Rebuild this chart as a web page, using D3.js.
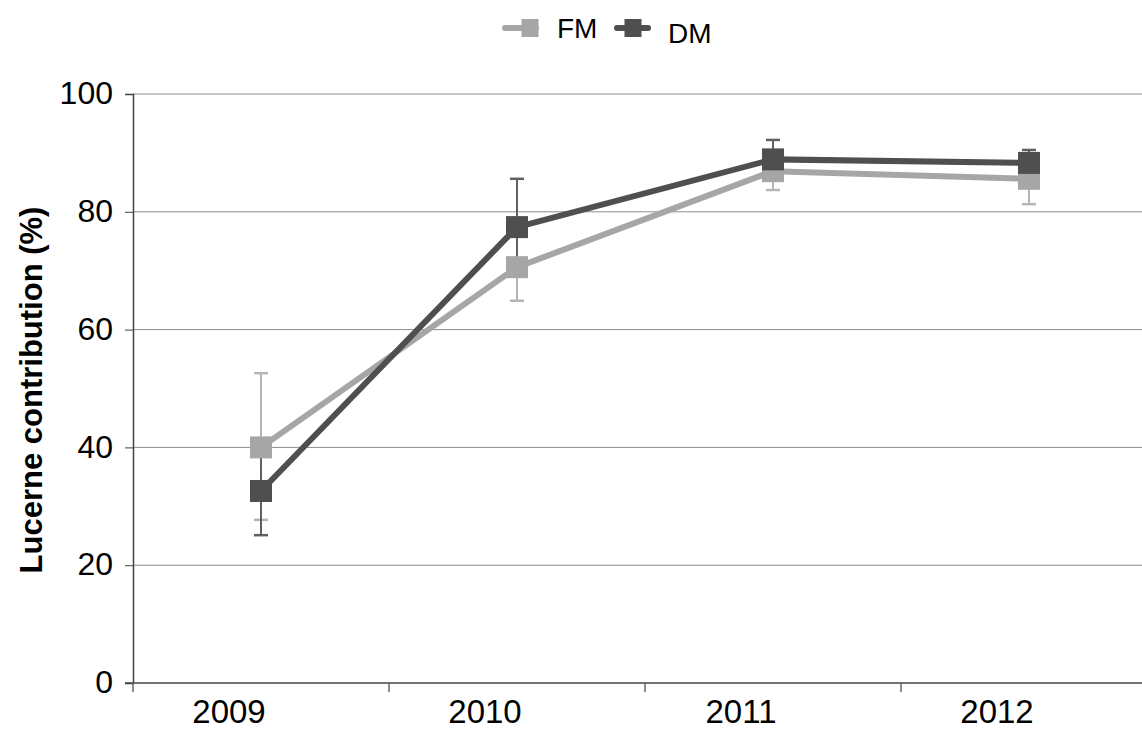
<!DOCTYPE html>
<html><head><meta charset="utf-8">
<script src="https://cdn.jsdelivr.net/npm/d3@7"></script>
<style>body{margin:0;background:#fff}svg{display:block}text{font-family:"Liberation Sans",Arial,sans-serif}</style>
</head><body><svg id="c" width="1142" height="729"></svg>
<script>
const years = ["2009","2010","2011","2012"];
const fmValues = [40.0, 70.6, 86.9, 85.6];
const fmErrLow = [27.7, 64.9, 83.7, 81.3];
const fmErrHigh = [52.6, 76.3, 90.1, 89.9];
const dmValues = [32.6, 77.4, 88.9, 88.3];
const dmErrLow = [25.1, 69.2, 85.6, 86.1];
const dmErrHigh = [40.1, 85.6, 92.2, 90.5];
const yTicks = [0,20,40,60,80,100];

(function(){
const svg = d3.select("#c");
const mLeft = 133, mTop = 94, mBottom = 683;
const x = d3.scaleBand().domain(years).range([mLeft, mLeft + 4*256]);
const y = d3.scaleLinear().domain([0,100]).range([mBottom, mTop]);

// gridlines
svg.append("g").selectAll("line").data(yTicks.filter(d=>d>0)).join("line")
  .attr("x1", mLeft).attr("x2", 1142).attr("y1", d=>y(d)).attr("y2", d=>y(d))
  .attr("stroke", "#8c8c8c").attr("stroke-width", 1);

// y axis
const ya = svg.append("g").attr("transform", `translate(${mLeft},0)`)
  .call(d3.axisLeft(y).tickValues(yTicks).tickSize(8).tickPadding(12));
ya.select(".domain").attr("stroke", "#444").attr("stroke-width", 1.5);
ya.selectAll(".tick line").attr("stroke", "#444");
ya.selectAll("text").attr("font-size", 32).attr("fill", "#000").attr("dy", "0.3em");

// x axis
const xa = svg.append("g").attr("transform", `translate(0,${mBottom})`)
  .call(d3.axisBottom(x).tickSize(0).tickPadding(20));
xa.select(".domain").remove();
xa.selectAll("text").attr("font-size", 33).attr("fill", "#000").attr("x", -32).attr("y", 40).attr("dy", 0);
svg.append("line").attr("x1", mLeft - 8).attr("x2", 1142).attr("y1", mBottom).attr("y2", mBottom)
  .attr("stroke", "#444").attr("stroke-width", 1.5);
svg.append("g").selectAll("line").data(years).join("line")
  .attr("x1", d=>x(d)).attr("x2", d=>x(d)).attr("y1", mBottom).attr("y2", mBottom + 9)
  .attr("stroke", "#666").attr("stroke-width", 1.5);

// y label
svg.append("text").attr("transform", "translate(42,390) rotate(-90)")
  .attr("text-anchor", "middle").attr("font-size", 31).attr("font-weight", "bold")
  .text("Lucerne contribution (%)");

const cx = d => x(d) + x.bandwidth()/2;
const series = [
  {name:"FM", vals: fmValues, lo: fmErrLow, hi: fmErrHigh, color:"#a6a6a6", err:"#b5b5b5"},
  {name:"DM", vals: dmValues, lo: dmErrLow, hi: dmErrHigh, color:"#4f4f4f", err:"#606060"}
];

// error bars
series.forEach(s => {
  const g = svg.append("g");
  years.forEach((yr,i) => {
    const X = cx(yr);
    g.append("line").attr("x1",X).attr("x2",X).attr("y1",y(s.lo[i])).attr("y2",y(s.hi[i]))
      .attr("stroke", s.err).attr("stroke-width", 2);
    [s.lo[i], s.hi[i]].forEach(v => g.append("line").attr("x1",X-7).attr("x2",X+7)
      .attr("y1",y(v)).attr("y2",y(v)).attr("stroke", s.err).attr("stroke-width", 2.5));
  });
});

// lines and markers
series.forEach(s => {
  const data = years.map((yr,i)=>({yr, v:s.vals[i]}));
  svg.append("path").datum(data)
    .attr("d", d3.line().x(d=>cx(d.yr)).y(d=>y(d.v)))
    .attr("fill","none").attr("stroke", s.color).attr("stroke-width", 6);
  svg.append("g").selectAll("rect").data(data).join("rect")
    .attr("x", d=>cx(d.yr)-11).attr("y", d=>y(d.v)-11).attr("width",22).attr("height",22)
    .attr("fill", s.color);
});

// legend
const leg = [
  {s:series[0], l1:505, l2:536, mx:530, my:28, tx:557, ty:38},
  {s:series[1], l1:617, l2:648, mx:633, my:28, tx:668, ty:43}
];
leg.forEach(l => {
  svg.append("line").attr("x1", l.l1).attr("x2", l.l2).attr("y1", l.my).attr("y2", l.my)
    .attr("stroke", l.s.color).attr("stroke-width", 6).attr("stroke-linecap","round");
  svg.append("rect").attr("x", l.mx-8.5).attr("y", l.my-9).attr("width",17).attr("height",18).attr("fill", l.s.color);
  svg.append("text").attr("x", l.tx).attr("y", l.ty).attr("font-size", 28).text(l.s.name);
});
})();
</script></body></html>
